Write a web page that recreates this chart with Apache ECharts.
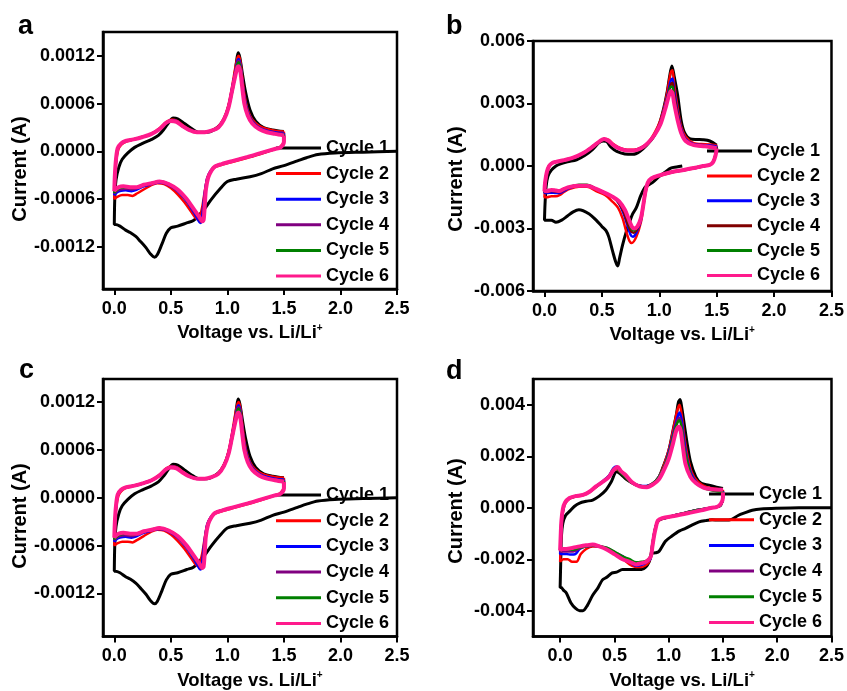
<!DOCTYPE html>
<html>
<head>
<meta charset="utf-8">
<script src="https://cdn.jsdelivr.net/npm/echarts@6.0.0/dist/echarts.min.js"></script>
<style>
  html, body { margin: 0; padding: 0; background: #fff; }
  #chart { width: 847px; height: 691px; }
</style>
</head>
<body>
<div id="chart"></div>
<script>
// CV curves, 6 cycles per panel. x = voltage (V vs Li/Li+), y = current (A)
const cycleNames = ['Cycle 1', 'Cycle 2', 'Cycle 3', 'Cycle 4', 'Cycle 5', 'Cycle 6'];
const voltageTicks = [0, 0.5, 1.0, 1.5, 2.0, 2.5];
const currentTicksA = [-0.0012, -0.0006, 0, 0.0006, 0.0012];
const currentTicksB = [-0.006, -0.003, 0, 0.003, 0.006];
const currentTicksD = [-0.004, -0.002, 0, 0.002, 0.004];

// panel a (panel c shows the same measurement)
const cycleA1 = [[2.5,0],[2.2,-0.00001],[1.95,-0.00002],[1.8,-0.00004],[1.7,-0.00008],[1.62,-0.00012],[1.5,-0.00018],[1.4,-0.00022],[1.3,-0.00028],[1.2,-0.00032],[1.08,-0.00035],[1.0,-0.00038],[0.93,-0.00048],[0.86,-0.0006],[0.8,-0.00072],[0.75,-0.0008],[0.7,-0.00087],[0.64,-0.0009],[0.56,-0.00094],[0.5,-0.00096],[0.46,-0.00103],[0.42,-0.00117],[0.38,-0.0013],[0.355,-0.00133],[0.32,-0.00129],[0.28,-0.00121],[0.23,-0.00113],[0.19,-0.00107],[0.14,-0.00102],[0.1,-0.00099],[0.05,-0.00094],[0.01,-0.00092],[0.0,-0.00092],
  [0.004,-0.0006],[0.015,-0.00036],[0.04,-0.0002],[0.07,-0.0001],[0.12,-0.00002],[0.18,0.00005],[0.25,0.0001],[0.33,0.00015],[0.39,0.0002],[0.44,0.00028],[0.48,0.00036],[0.52,0.00042],[0.56,0.00041],[0.62,0.00035],[0.68,0.00029],[0.75,0.00024],[0.82,0.00024],[0.88,0.00027],[0.94,0.00034],[0.99,0.00047],[1.03,0.00068],[1.06,0.0009],[1.08,0.00112],[1.095,0.00124],[1.11,0.00118],[1.13,0.001],[1.16,0.00075],[1.2,0.00052],[1.25,0.00038],[1.32,0.0003],[1.4,0.00027],[1.5,0.00025]];
const cycleA2 = [[1.5,0.00025],[1.5,0.00014],[1.47,0.00006],[1.42,0.00003],[1.3,-0.00003],[1.18,-0.00008],[1.05,-0.00013],[0.95,-0.00017],[0.89,-0.0002],[0.85,-0.00026],[0.82,-0.00036],[0.8,-0.0005],[0.78,-0.00068],[0.76,-0.0008],[0.74,-0.00085],[0.72,-0.00084],[0.68,-0.00076],[0.62,-0.00064],[0.56,-0.00054],[0.5,-0.00046],[0.44,-0.00041],[0.38,-0.0004],[0.32,-0.00043],[0.26,-0.00048],[0.2,-0.00053],[0.16,-0.00056],[0.12,-0.00055],[0.07,-0.00055],[0.03,-0.00057],[0.0,-0.0006],
  [0.005,-0.0004],[0.015,-0.00015],[0.035,0.00002],[0.06,0.00008],[0.1,0.00012],[0.17,0.00015],[0.25,0.00018],[0.33,0.00022],[0.4,0.00029],[0.46,0.00037],[0.51,0.0004],[0.56,0.00038],[0.61,0.00032],[0.67,0.00027],[0.73,0.00024],[0.8,0.00024],[0.86,0.00026],[0.92,0.00031],[0.97,0.00042],[1.01,0.00058],[1.04,0.0008],[1.07,0.00105],[1.09,0.00118],[1.1,0.0012],[1.115,0.00113],[1.13,0.00095],[1.15,0.00072],[1.18,0.00052],[1.22,0.0004],[1.28,0.00032],[1.35,0.00028],[1.42,0.00026],[1.5,0.00025]];
const cycleA3 = [[1.5,0.00023],[1.5,0.00013],[1.47,0.00005],[1.42,0.00003],[1.3,-0.00002],[1.18,-0.00007],[1.05,-0.00012],[0.95,-0.00016],[0.89,-0.00019],[0.85,-0.00025],[0.82,-0.00035],[0.8,-0.00052],[0.785,-0.0007],[0.77,-0.00088],[0.76,-0.0009],[0.74,-0.00086],[0.7,-0.00076],[0.64,-0.00063],[0.56,-0.0005],[0.48,-0.00042],[0.4,-0.00039],[0.33,-0.00041],[0.26,-0.00044],[0.2,-0.00048],[0.15,-0.0005],[0.1,-0.00049],[0.05,-0.0005],[0.02,-0.00052],[0.0,-0.00055],
  [0.005,-0.00035],[0.015,-0.00012],[0.03,0.00003],[0.06,0.0001],[0.1,0.00013],[0.17,0.00015],[0.25,0.00018],[0.33,0.00022],[0.4,0.00028],[0.46,0.00036],[0.51,0.00039],[0.55,0.00038],[0.6,0.00032],[0.66,0.00027],[0.73,0.00024],[0.8,0.00024],[0.86,0.00026],[0.92,0.0003],[0.97,0.00041],[1.01,0.00056],[1.04,0.00078],[1.07,0.001],[1.09,0.00114],[1.1,0.00116],[1.115,0.00109],[1.13,0.0009],[1.15,0.00068],[1.18,0.0005],[1.22,0.00038],[1.28,0.0003],[1.35,0.00026],[1.42,0.00024],[1.5,0.00023]];
const cycleA4 = [[1.5,0.00022],[1.5,0.00012],[1.47,0.00005],[1.42,0.00003],[1.3,-0.00002],[1.18,-0.00007],[1.05,-0.00012],[0.95,-0.00016],[0.89,-0.00019],[0.85,-0.00025],[0.82,-0.00034],[0.805,-0.0005],[0.79,-0.0007],[0.78,-0.00087],[0.77,-0.00089],[0.75,-0.00085],[0.7,-0.00074],[0.64,-0.00062],[0.56,-0.00049],[0.48,-0.00041],[0.4,-0.00038],[0.33,-0.0004],[0.26,-0.00043],[0.2,-0.00046],[0.15,-0.00048],[0.1,-0.00047],[0.05,-0.00048],[0.02,-0.0005],[0.0,-0.00053],
  [0.005,-0.00033],[0.015,-0.00011],[0.03,0.00004],[0.06,0.0001],[0.1,0.00013],[0.17,0.00015],[0.25,0.00018],[0.33,0.00022],[0.4,0.00028],[0.46,0.00036],[0.51,0.00039],[0.55,0.00038],[0.6,0.00032],[0.66,0.00027],[0.73,0.00024],[0.8,0.00024],[0.86,0.00026],[0.92,0.0003],[0.97,0.0004],[1.01,0.00055],[1.04,0.00077],[1.07,0.00099],[1.09,0.00112],[1.1,0.00114],[1.115,0.00107],[1.13,0.00088],[1.15,0.00066],[1.18,0.00049],[1.22,0.00037],[1.28,0.00029],[1.35,0.00025],[1.42,0.00023],[1.5,0.00022]];
const cycleA5 = [[1.5,0.00021],[1.5,0.00012],[1.47,0.00005],[1.42,0.00003],[1.3,-0.00002],[1.18,-0.00007],[1.05,-0.00012],[0.95,-0.00016],[0.89,-0.00019],[0.86,-0.00024],[0.83,-0.00033],[0.81,-0.00048],[0.8,-0.00068],[0.79,-0.00086],[0.78,-0.00088],[0.755,-0.00084],[0.7,-0.00073],[0.64,-0.00061],[0.56,-0.00048],[0.48,-0.00041],[0.4,-0.00038],[0.33,-0.0004],[0.26,-0.00042],[0.2,-0.00045],[0.15,-0.00046],[0.1,-0.00045],[0.05,-0.00046],[0.02,-0.00049],[0.0,-0.00052],
  [0.005,-0.00032],[0.015,-0.0001],[0.03,0.00004],[0.06,0.0001],[0.1,0.00013],[0.17,0.00015],[0.25,0.00018],[0.33,0.00022],[0.4,0.00028],[0.46,0.00036],[0.51,0.00038],[0.55,0.00037],[0.6,0.00032],[0.66,0.00027],[0.73,0.00024],[0.8,0.00024],[0.86,0.00026],[0.92,0.0003],[0.97,0.0004],[1.01,0.00055],[1.04,0.00076],[1.07,0.00097],[1.09,0.0011],[1.1,0.00112],[1.115,0.00105],[1.13,0.00086],[1.15,0.00064],[1.18,0.00047],[1.22,0.00036],[1.28,0.00028],[1.35,0.00024],[1.42,0.00022],[1.5,0.00021]];
const cycleA6 = [[1.5,0.0002],[1.5,0.00012],[1.47,0.00005],[1.42,0.00003],[1.3,-0.00002],[1.18,-0.00007],[1.05,-0.00012],[0.95,-0.00016],[0.89,-0.00019],[0.86,-0.00024],[0.83,-0.00033],[0.81,-0.00048],[0.8,-0.00068],[0.79,-0.00086],[0.78,-0.00088],[0.75,-0.00082],[0.7,-0.00072],[0.64,-0.0006],[0.56,-0.00048],[0.48,-0.00041],[0.4,-0.00038],[0.33,-0.0004],[0.26,-0.00042],[0.2,-0.00045],[0.14,-0.00045],[0.08,-0.00044],[0.04,-0.00045],[0.01,-0.00048],[0.0,-0.0005],
  [0.005,-0.0003],[0.015,-0.0001],[0.03,0.00004],[0.06,0.0001],[0.1,0.00013],[0.17,0.00015],[0.25,0.00018],[0.33,0.00022],[0.4,0.00028],[0.46,0.00036],[0.5,0.00038],[0.55,0.00037],[0.6,0.00032],[0.66,0.00027],[0.73,0.00024],[0.8,0.00024],[0.86,0.00026],[0.92,0.0003],[0.97,0.0004],[1.01,0.00055],[1.04,0.00075],[1.07,0.00095],[1.09,0.00106],[1.1,0.00107],[1.115,0.001],[1.13,0.00082],[1.15,0.0006],[1.18,0.00045],[1.22,0.00035],[1.28,0.00028],[1.35,0.00024],[1.42,0.00022],[1.5,0.0002]];

// panel b
const cycleB1 = [[1.2,0],[1.15,-0.00005],[1.1,-0.0001],[1.05,-0.0003],[1.0,-0.0005],[0.94,-0.0008],[0.88,-0.001],[0.84,-0.0014],[0.8,-0.002],[0.768,-0.0023],[0.74,-0.0027],[0.71,-0.0032],[0.68,-0.0038],[0.655,-0.0044],[0.638,-0.0048],[0.62,-0.0046],[0.594,-0.0041],[0.56,-0.0034],[0.536,-0.0031],[0.5,-0.0029],[0.45,-0.0026],[0.39,-0.0023],[0.3,-0.0021],[0.25,-0.0022],[0.2,-0.0024],[0.15,-0.0026],[0.1,-0.0027],[0.06,-0.0026],[0.02,-0.0026],[0.0,-0.0026],
  [0.005,-0.0018],[0.014,-0.001],[0.03,-0.0005],[0.06,-0.0002],[0.1,0.0],[0.14,0.0001],[0.2,0.0002],[0.28,0.0003],[0.35,0.0005],[0.42,0.0008],[0.47,0.0011],[0.51,0.0012],[0.54,0.00118],[0.58,0.0009],[0.63,0.0007],[0.7,0.00058],[0.77,0.00056],[0.83,0.0007],[0.89,0.001],[0.95,0.0014],[1.0,0.002],[1.04,0.0028],[1.07,0.0036],[1.09,0.0043],[1.11,0.0048],[1.13,0.0043],[1.16,0.0034],[1.19,0.0022],[1.22,0.0016],[1.27,0.0013],[1.33,0.00127],[1.38,0.00126],[1.44,0.0012],[1.5,0.001]];
const cycleB2 = [[1.5,0.001],[1.49,0.0006],[1.47,0.0002],[1.44,0.00005],[1.38,-0.00002],[1.3,-0.00012],[1.2,-0.00022],[1.1,-0.00032],[1.0,-0.00048],[0.93,-0.00065],[0.9,-0.0009],[0.88,-0.0013],[0.86,-0.002],[0.84,-0.0027],[0.8,-0.0034],[0.76,-0.0037],[0.74,-0.0036],[0.71,-0.0031],[0.68,-0.0025],[0.64,-0.002],[0.59,-0.0017],[0.53,-0.0014],[0.45,-0.0012],[0.37,-0.001],[0.3,-0.001],[0.22,-0.0011],[0.17,-0.00125],[0.13,-0.0014],[0.1,-0.00145],[0.06,-0.00145],[0.02,-0.0015],[0.0,-0.0015],
  [0.005,-0.001],[0.02,-0.0004],[0.045,0.0],[0.07,0.00013],[0.1,0.0002],[0.17,0.00028],[0.25,0.0004],[0.33,0.0006],[0.4,0.00085],[0.46,0.0011],[0.52,0.0013],[0.56,0.00125],[0.6,0.00105],[0.65,0.00088],[0.72,0.00078],[0.78,0.00078],[0.84,0.00088],[0.9,0.0011],[0.96,0.0016],[1.01,0.0022],[1.05,0.003],[1.08,0.0039],[1.1,0.0045],[1.115,0.0046],[1.13,0.0039],[1.16,0.0028],[1.19,0.0019],[1.23,0.0014],[1.3,0.0011],[1.4,0.00105],[1.5,0.001]];
const cycleB3 = [[1.5,0.00095],[1.49,0.00055],[1.47,0.0002],[1.44,0.00005],[1.38,-0.00001],[1.3,-0.00011],[1.2,-0.00021],[1.1,-0.00031],[1.0,-0.00046],[0.93,-0.00062],[0.9,-0.00085],[0.88,-0.0012],[0.86,-0.0019],[0.84,-0.0026],[0.8,-0.0032],[0.77,-0.0034],[0.75,-0.0033],[0.72,-0.0028],[0.69,-0.0023],[0.65,-0.0018],[0.6,-0.0015],[0.53,-0.0013],[0.45,-0.0011],[0.37,-0.00095],[0.3,-0.00095],[0.22,-0.00105],[0.17,-0.0012],[0.13,-0.0013],[0.1,-0.0013],[0.06,-0.00128],[0.02,-0.0013],[0.0,-0.0013],
  [0.005,-0.0009],[0.02,-0.00035],[0.04,0.0],[0.07,0.00015],[0.1,0.0002],[0.17,0.00028],[0.25,0.0004],[0.33,0.0006],[0.4,0.00085],[0.46,0.0011],[0.52,0.0013],[0.56,0.0012],[0.6,0.001],[0.65,0.00085],[0.72,0.00075],[0.78,0.00075],[0.84,0.00086],[0.9,0.0011],[0.96,0.0015],[1.01,0.0021],[1.05,0.0029],[1.08,0.0036],[1.1,0.0041],[1.115,0.0042],[1.13,0.0036],[1.16,0.0026],[1.19,0.0018],[1.23,0.0013],[1.3,0.00105],[1.4,0.001],[1.5,0.00095]];
const cycleB4 = [[1.5,0.0009],[1.49,0.00052],[1.47,0.0002],[1.44,0.00005],[1.38,0.0],[1.3,-0.0001],[1.2,-0.0002],[1.1,-0.0003],[1.0,-0.00045],[0.93,-0.0006],[0.9,-0.00082],[0.88,-0.0012],[0.86,-0.0019],[0.84,-0.0025],[0.81,-0.003],[0.775,-0.0032],[0.75,-0.0031],[0.72,-0.0027],[0.69,-0.0022],[0.65,-0.0018],[0.6,-0.0015],[0.53,-0.0013],[0.45,-0.0011],[0.37,-0.00092],[0.3,-0.00092],[0.22,-0.001],[0.17,-0.00115],[0.13,-0.00125],[0.1,-0.00122],[0.06,-0.0012],[0.02,-0.00125],[0.0,-0.00125],
  [0.005,-0.00085],[0.02,-0.0003],[0.04,0.0],[0.07,0.00015],[0.1,0.0002],[0.17,0.00028],[0.25,0.0004],[0.33,0.0006],[0.4,0.00085],[0.46,0.0011],[0.52,0.0013],[0.56,0.0012],[0.6,0.001],[0.65,0.00085],[0.72,0.00075],[0.78,0.00075],[0.84,0.00086],[0.9,0.0011],[0.96,0.0015],[1.01,0.0021],[1.05,0.0028],[1.08,0.0035],[1.1,0.0039],[1.115,0.004],[1.13,0.0034],[1.16,0.0025],[1.19,0.0017],[1.23,0.00125],[1.3,0.001],[1.4,0.00095],[1.5,0.0009]];
const cycleB5 = [[1.5,0.00088],[1.49,0.0005],[1.47,0.0002],[1.44,0.00005],[1.38,0.0],[1.3,-0.0001],[1.2,-0.0002],[1.1,-0.0003],[1.0,-0.00045],[0.93,-0.0006],[0.9,-0.0008],[0.88,-0.0012],[0.86,-0.0019],[0.84,-0.0025],[0.81,-0.0029],[0.78,-0.0031],[0.755,-0.003],[0.73,-0.0026],[0.7,-0.0021],[0.65,-0.0017],[0.6,-0.0015],[0.53,-0.0013],[0.45,-0.0011],[0.37,-0.0009],[0.3,-0.0009],[0.22,-0.001],[0.17,-0.0011],[0.13,-0.0012],[0.1,-0.0012],[0.06,-0.00118],[0.02,-0.0012],[0.0,-0.0012],
  [0.005,-0.0008],[0.02,-0.0003],[0.04,0.0],[0.07,0.00015],[0.1,0.0002],[0.17,0.00028],[0.25,0.0004],[0.33,0.0006],[0.4,0.00085],[0.46,0.0011],[0.52,0.0013],[0.56,0.0012],[0.6,0.001],[0.65,0.00085],[0.72,0.00075],[0.78,0.00075],[0.84,0.00085],[0.9,0.0011],[0.96,0.0015],[1.01,0.002],[1.05,0.0028],[1.08,0.0034],[1.1,0.0038],[1.115,0.0038],[1.13,0.0032],[1.16,0.0023],[1.19,0.0016],[1.23,0.0012],[1.3,0.001],[1.4,0.00093],[1.5,0.00088]];
const cycleB6 = [[1.5,0.00085],[1.49,0.0005],[1.47,0.0002],[1.44,0.00005],[1.38,0.0],[1.3,-0.0001],[1.2,-0.0002],[1.1,-0.0003],[1.0,-0.00045],[0.93,-0.0006],[0.9,-0.0008],[0.88,-0.0012],[0.86,-0.0019],[0.84,-0.0025],[0.81,-0.0029],[0.78,-0.003],[0.76,-0.0029],[0.73,-0.0025],[0.7,-0.0021],[0.65,-0.0017],[0.6,-0.0015],[0.53,-0.0013],[0.45,-0.0011],[0.37,-0.00095],[0.3,-0.00095],[0.22,-0.001],[0.17,-0.0011],[0.13,-0.0012],[0.1,-0.00118],[0.06,-0.00115],[0.02,-0.0012],[0.0,-0.0012],
  [0.005,-0.0008],[0.02,-0.0003],[0.04,0.0],[0.07,0.00015],[0.1,0.0002],[0.17,0.00028],[0.25,0.0004],[0.33,0.0006],[0.4,0.00085],[0.46,0.0011],[0.52,0.0013],[0.56,0.0012],[0.6,0.001],[0.65,0.00085],[0.72,0.00075],[0.78,0.00075],[0.84,0.00085],[0.9,0.0011],[0.96,0.0015],[1.01,0.002],[1.05,0.0027],[1.08,0.0033],[1.1,0.0036],[1.115,0.0035],[1.13,0.003],[1.16,0.0022],[1.19,0.0016],[1.23,0.0012],[1.3,0.001],[1.4,0.00095],[1.5,0.00085]];

// panel d
const cycleD1 = [[2.5,0],[2.2,0],[2.0,-0.00002],[1.85,-0.00005],[1.77,-0.0001],[1.7,-0.0002],[1.64,-0.0003],[1.58,-0.00045],[1.52,-0.00048],[1.46,-0.00048],[1.4,-0.00047],[1.34,-0.0005],[1.28,-0.00055],[1.2,-0.0007],[1.155,-0.0008],[1.1,-0.0009],[1.03,-0.0011],[0.97,-0.0013],[0.91,-0.0017],[0.88,-0.00175],[0.85,-0.00176],[0.82,-0.0021],[0.79,-0.0023],[0.75,-0.0024],[0.7,-0.0024],[0.64,-0.0024],[0.575,-0.0024],[0.52,-0.0025],[0.48,-0.00253],[0.43,-0.0027],[0.39,-0.0028],[0.35,-0.0031],[0.3,-0.0034],[0.25,-0.0038],[0.21,-0.004],[0.18,-0.004],[0.14,-0.0039],[0.1,-0.0037],[0.056,-0.0033],[0.03,-0.0032],[0.01,-0.0031],[0.0,-0.0031],
  [0.005,-0.0022],[0.012,-0.0011],[0.025,-0.0006],[0.05,-0.0003],[0.086,-0.00014],[0.13,0.00005],[0.18,0.00018],[0.24,0.00025],[0.3,0.0003],[0.36,0.00045],[0.42,0.00068],[0.47,0.001],[0.52,0.0014],[0.56,0.0013],[0.61,0.0011],[0.67,0.00095],[0.73,0.00085],[0.79,0.00082],[0.85,0.00092],[0.9,0.0011],[0.95,0.0016],[1.0,0.0022],[1.04,0.003],[1.07,0.0036],[1.09,0.0041],[1.105,0.0042],[1.12,0.0039],[1.145,0.0032],[1.17,0.0025],[1.2,0.0018],[1.25,0.0012],[1.3,0.00095],[1.37,0.00088],[1.44,0.0008],[1.5,0.00075]];
const cycleD2 = [[1.5,0.0007],[1.5,0.0004],[1.48,0.0001],[1.44,0.00003],[1.35,-0.00003],[1.25,-0.0001],[1.15,-0.0002],[1.05,-0.0003],[0.97,-0.0004],[0.92,-0.00047],[0.89,-0.00062],[0.87,-0.001],[0.85,-0.0015],[0.83,-0.002],[0.8,-0.0022],[0.75,-0.0023],[0.7,-0.0023],[0.64,-0.0022],[0.58,-0.002],[0.5,-0.0018],[0.43,-0.0016],[0.36,-0.0015],[0.3,-0.0015],[0.24,-0.0016],[0.19,-0.0018],[0.15,-0.0021],[0.11,-0.0021],[0.07,-0.002],[0.03,-0.002],[0.0,-0.0021],
  [0.005,-0.0015],[0.012,-0.0007],[0.025,-0.0002],[0.045,0.00015],[0.086,0.00035],[0.14,0.00043],[0.21,0.00048],[0.27,0.0006],[0.33,0.0008],[0.39,0.001],[0.45,0.0012],[0.49,0.00145],[0.52,0.0015],[0.55,0.0014],[0.6,0.0012],[0.65,0.001],[0.72,0.00086],[0.79,0.00083],[0.85,0.00093],[0.91,0.0012],[0.96,0.0017],[1.01,0.0024],[1.05,0.0032],[1.08,0.0038],[1.1,0.004],[1.12,0.0036],[1.14,0.0029],[1.17,0.0021],[1.21,0.0014],[1.27,0.001],[1.35,0.0008],[1.43,0.00074],[1.5,0.0007]];
const cycleD3 = [[1.5,0.00065],[1.5,0.0004],[1.48,0.0001],[1.44,0.00003],[1.35,-0.00003],[1.25,-0.0001],[1.15,-0.0002],[1.05,-0.0003],[0.97,-0.0004],[0.92,-0.00046],[0.89,-0.0006],[0.87,-0.00095],[0.85,-0.0015],[0.83,-0.002],[0.8,-0.0021],[0.75,-0.00222],[0.7,-0.00225],[0.64,-0.0021],[0.58,-0.0019],[0.5,-0.00175],[0.43,-0.00158],[0.36,-0.0015],[0.3,-0.00148],[0.24,-0.0015],[0.18,-0.0016],[0.14,-0.0018],[0.1,-0.00182],[0.06,-0.0018],[0.03,-0.0018],[0.0,-0.0018],
  [0.005,-0.0012],[0.012,-0.0006],[0.025,-0.00015],[0.045,0.0002],[0.086,0.00037],[0.14,0.00045],[0.21,0.0005],[0.27,0.00062],[0.33,0.00083],[0.39,0.00102],[0.45,0.00125],[0.49,0.00153],[0.52,0.0016],[0.55,0.00145],[0.6,0.00122],[0.65,0.00102],[0.72,0.00087],[0.79,0.00084],[0.85,0.00093],[0.91,0.0012],[0.96,0.0016],[1.01,0.0023],[1.05,0.003],[1.08,0.0035],[1.1,0.0037],[1.12,0.0034],[1.14,0.0027],[1.17,0.0019],[1.21,0.0013],[1.27,0.00092],[1.35,0.00075],[1.43,0.00068],[1.5,0.00065]];
const cycleD4 = [[1.5,0.00063],[1.5,0.0004],[1.48,0.0001],[1.44,0.00003],[1.35,-0.00003],[1.25,-0.0001],[1.15,-0.0002],[1.05,-0.0003],[0.97,-0.0004],[0.92,-0.00045],[0.89,-0.0006],[0.87,-0.0009],[0.85,-0.0014],[0.83,-0.0019],[0.8,-0.00208],[0.75,-0.00215],[0.7,-0.00218],[0.64,-0.00205],[0.58,-0.0019],[0.5,-0.00172],[0.43,-0.00156],[0.36,-0.00149],[0.3,-0.00147],[0.24,-0.0015],[0.18,-0.00158],[0.12,-0.0017],[0.07,-0.0017],[0.03,-0.0017],[0.0,-0.0017],
  [0.005,-0.0011],[0.012,-0.0005],[0.025,-0.0001],[0.045,0.0002],[0.086,0.00037],[0.14,0.00045],[0.21,0.0005],[0.27,0.00062],[0.33,0.00082],[0.39,0.001],[0.45,0.00122],[0.49,0.0015],[0.52,0.00157],[0.55,0.00142],[0.6,0.0012],[0.65,0.001],[0.72,0.00086],[0.79,0.00083],[0.85,0.00093],[0.91,0.0012],[0.96,0.0016],[1.01,0.0022],[1.05,0.0029],[1.08,0.0034],[1.1,0.0035],[1.12,0.0032],[1.14,0.0025],[1.17,0.0018],[1.21,0.0012],[1.27,0.0009],[1.35,0.00074],[1.43,0.00066],[1.5,0.00063]];
const cycleD5 = [[1.5,0.00062],[1.5,0.0004],[1.48,0.0001],[1.44,0.00003],[1.35,-0.00003],[1.25,-0.0001],[1.15,-0.0002],[1.05,-0.0003],[0.97,-0.0004],[0.92,-0.00045],[0.89,-0.0006],[0.87,-0.0009],[0.85,-0.0014],[0.83,-0.0019],[0.8,-0.00205],[0.75,-0.0021],[0.7,-0.00212],[0.64,-0.002],[0.58,-0.0019],[0.5,-0.0017],[0.43,-0.00155],[0.36,-0.00148],[0.3,-0.00146],[0.24,-0.0015],[0.18,-0.00155],[0.12,-0.00163],[0.07,-0.00162],[0.03,-0.00162],[0.0,-0.00165],
  [0.005,-0.0011],[0.012,-0.0005],[0.025,-0.0001],[0.045,0.0002],[0.086,0.00037],[0.14,0.00045],[0.21,0.0005],[0.27,0.00062],[0.33,0.00082],[0.39,0.001],[0.45,0.00122],[0.49,0.00148],[0.52,0.00155],[0.55,0.0014],[0.6,0.0012],[0.65,0.001],[0.72,0.00086],[0.79,0.00083],[0.85,0.00093],[0.91,0.0012],[0.96,0.0016],[1.01,0.0022],[1.05,0.0029],[1.08,0.0033],[1.1,0.0034],[1.12,0.0031],[1.14,0.0024],[1.17,0.0018],[1.21,0.0012],[1.27,0.00089],[1.35,0.00073],[1.43,0.00065],[1.5,0.00062]];
const cycleD6 = [[1.5,0.0006],[1.5,0.0004],[1.48,0.00015],[1.44,0.00002],[1.4,0.0],[1.3,-0.0001],[1.19,-0.0002],[1.05,-0.00032],[0.94,-0.0004],[0.9,-0.0005],[0.88,-0.0008],[0.865,-0.0011],[0.85,-0.0015],[0.835,-0.0019],[0.79,-0.0021],[0.75,-0.00215],[0.7,-0.0022],[0.64,-0.0021],[0.575,-0.002],[0.5,-0.0018],[0.42,-0.0016],[0.36,-0.0015],[0.3,-0.00143],[0.24,-0.00146],[0.18,-0.0015],[0.12,-0.00155],[0.055,-0.0016],[0.02,-0.0016],[0.0,-0.00165],
  [0.005,-0.0011],[0.012,-0.0005],[0.025,-0.00005],[0.045,0.0002],[0.086,0.00038],[0.14,0.00045],[0.21,0.0005],[0.27,0.00062],[0.33,0.00083],[0.39,0.001],[0.45,0.0012],[0.49,0.00145],[0.53,0.00158],[0.56,0.00142],[0.6,0.00128],[0.66,0.001],[0.73,0.00083],[0.8,0.0008],[0.86,0.00092],[0.91,0.0011],[0.96,0.0015],[1.0,0.0019],[1.04,0.0025],[1.07,0.003],[1.094,0.00315],[1.11,0.003],[1.13,0.0024],[1.155,0.0017],[1.2,0.0012],[1.25,0.00096],[1.32,0.00078],[1.4,0.00072],[1.5,0.0007]];

const coloursAD = ['#000000', '#ff0000', '#0000ff', '#800080', '#008000', '#ff1a8c'];
const coloursB = ['#000000', '#ff0000', '#0000ff', '#800000', '#008000', '#ff1a8c'];

const FONT = 'Liberation Sans';

// panel layout: grid box in pixels, axis ranges, legend spot, y title centre
const panels = [
  { key: 'a', letter: [18, 13], grid: [103, 32, 294, 257], xMin: -0.1, yMin: -0.00173, yMax: 0.0015, yTicks: currentTicksA, dec: 4, yTitle: [20, 169],
    cycles: [cycleA1, cycleA2, cycleA3, cycleA4, cycleA5, cycleA6], colours: coloursAD, legend: [276, 139, 7.6] },
  { key: 'b', letter: [446, 13], grid: [533, 41, 300, 250], xMin: -0.1, yMin: -0.006, yMax: 0.006, yTicks: currentTicksB, dec: 3, yTitle: [456, 179],
    cycles: [cycleB1, cycleB2, cycleB3, cycleB4, cycleB5, cycleB6], colours: coloursB, legend: [707, 142, 6.9] },
  { key: 'c', letter: [19, 357], grid: [103, 379, 294, 258], xMin: -0.1, yMin: -0.00174, yMax: 0.00149, yTicks: currentTicksA, dec: 4, yTitle: [20, 516],
    cycles: [cycleA1, cycleA2, cycleA3, cycleA4, cycleA5, cycleA6], colours: coloursAD, legend: [276, 486, 7.7] },
  { key: 'd', letter: [446, 358], grid: [533, 379, 300, 258], xMin: -0.25, yMin: -0.005, yMax: 0.005, yTicks: currentTicksD, dec: 3, yTitle: [456, 511],
    cycles: [cycleD1, cycleD2, cycleD3, cycleD4, cycleD5, cycleD6], colours: coloursAD, legend: [709, 485, 7.7] }
];

const labelStyle = { fontFamily: FONT, fontSize: 18, fontWeight: 'bold', color: '#000' };

const grids = [], xAxes = [], yAxes = [], series = [], legends = [], graphics = [];

panels.forEach((p, gi) => {
  grids.push({
    left: p.grid[0], top: p.grid[1], width: p.grid[2], height: p.grid[3],
    show: true, borderColor: '#000', borderWidth: 2.5, backgroundColor: 'transparent'
  });
  xAxes.push({
    type: 'value', gridIndex: gi, min: p.xMin, max: 2.5,
    name: 'Voltage vs. Li/Li{sup|+}', nameLocation: 'middle', nameGap: 34, nameMoveOverlap: false,
    nameTextStyle: Object.assign({}, labelStyle, { fontSize: 18.5, rich: { sup: { fontFamily: FONT, fontSize: 10, fontWeight: 'bold', color: '#000', padding: [0, 0, 10, 0] } } }),
    axisLine: { show: true, onZero: false, lineStyle: { color: '#000', width: 2.5 } },
    axisTick: { show: true, inside: false, length: 6, customValues: voltageTicks, lineStyle: { color: '#000', width: 2 } },
    axisLabel: { customValues: voltageTicks, margin: 11, ...labelStyle, formatter: v => v.toFixed(1) },
    splitLine: { show: false }
  });
  yAxes.push({
    type: 'value', gridIndex: gi, min: p.yMin, max: p.yMax,
    axisLine: { show: true, onZero: false, lineStyle: { color: '#000', width: 2.5 } },
    axisTick: { show: true, inside: false, length: 6, customValues: p.yTicks, lineStyle: { color: '#000', width: 2 } },
    axisLabel: { customValues: p.yTicks, margin: 8, ...labelStyle, formatter: v => v.toFixed(p.dec) },
    splitLine: { show: false }
  });
  const names = [];
  p.cycles.forEach((data, i) => {
    const name = p.key + ':' + cycleNames[i];
    names.push(name);
    series.push({
      type: 'line', name, xAxisIndex: gi, yAxisIndex: gi, data,
      showSymbol: false, smooth: 0.3, animation: false,
      color: p.colours[i],
      itemStyle: { color: p.colours[i] },
      lineStyle: { color: p.colours[i], width: i === 5 ? 4 : (i === 0 ? 3 : 2.5) },
      z: 2 + i
    });
  });
  legends.push({
    orient: 'vertical', left: p.legend[0], top: p.legend[1], itemGap: p.legend[2],
    itemWidth: 45, itemHeight: 3, icon: 'rect', selectedMode: false, padding: 0,
    data: names, formatter: n => n.split(':')[1],
    textStyle: { ...labelStyle, lineHeight: 18 }
  });
  graphics.push({
    type: 'text', left: p.letter[0], top: p.letter[1],
    style: { text: p.key, font: 'bold 27px "Liberation Sans"', fill: '#000' }
  });
  // y axis title, rotated to read bottom-to-top
  graphics.push({
    type: 'text', x: p.yTitle[0], y: p.yTitle[1], rotation: Math.PI / 2,
    style: { text: 'Current (A)', font: 'bold 20px "Liberation Sans"', fill: '#000', align: 'center', verticalAlign: 'middle' }
  });
});

const chart = echarts.init(document.getElementById('chart'), null, { renderer: 'canvas' });
chart.setOption({
  backgroundColor: '#fff',
  animation: false,
  grid: grids,
  xAxis: xAxes,
  yAxis: yAxes,
  legend: legends,
  graphic: graphics,
  series: series
});
</script>
</body>
</html>
